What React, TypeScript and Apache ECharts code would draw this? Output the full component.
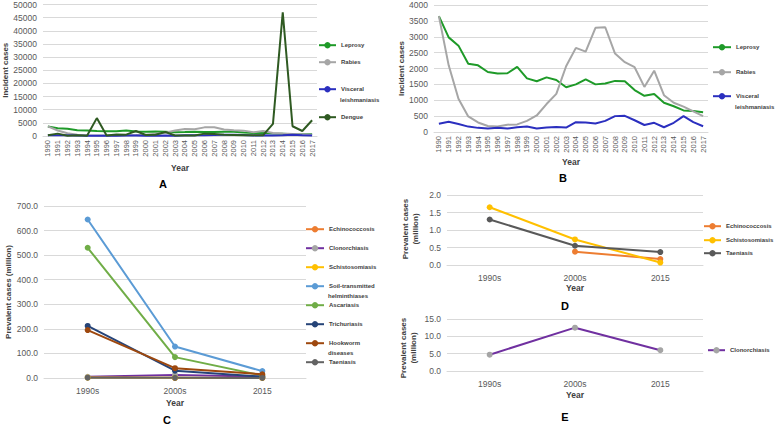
import React, { useEffect, useRef } from "react";
import * as echarts from "echarts";

const years = ["1990","1991","1992","1993","1994","1995","1996","1997","1998","1999","2000","2001","2002","2003","2004","2005","2006","2007","2008","2009","2010","2011","2012","2013","2014","2015","2016","2017"];
const leprosy = [3650, 2980, 2720, 2150, 2100, 1890, 1840, 1850, 2050, 1690, 1600, 1720, 1640, 1410, 1500, 1660, 1500, 1530, 1610, 1600, 1320, 1140, 1200, 920, 810, 680, 660, 620];
const rabies = [3650, 2100, 1050, 490, 300, 190, 170, 230, 240, 350, 520, 880, 1200, 2070, 2650, 2530, 3280, 3300, 2470, 2200, 2040, 1420, 1930, 1160, 920, 800, 650, 500];
const visceral = [260, 320, 250, 170, 130, 110, 130, 110, 150, 170, 110, 140, 160, 140, 310, 300, 270, 350, 500, 510, 370, 220, 290, 150, 290, 500, 310, 180];
const dengue = [300, 900, 100, 300, 100, 6800, 200, 600, 500, 1900, 400, 500, 1500, 200, 200, 200, 900, 800, 500, 400, 300, 300, 300, 4600, 47000, 3700, 1900, 6000];

const periods = ["1990s", "2000s", "2015"];
const echinococcosis = [null, 0.38, 0.17];
const clonorchiasis = [4.7, 12.5, 6.0];
const schistosomiasis = [1.65, 0.73, 0.07];
const soilTransmitted = [645, 128, 28];
const ascariasis = [530, 85, 10];
const trichuriasis = [212, 30, 5];
const hookworm = [195, 40, 15];
const taeniasis = [1.3, 0.55, 0.37];

const FONT = "'Liberation Sans', Arial, sans-serif";
const TICK = "#595959";
const GRIDC = "#d9d9d9";
const LFS = 6;

export default function App() {
  const ref = useRef<HTMLDivElement>(null);
  useEffect(() => {
    document.body.style.margin = "0";
    const chart = echarts.init(ref.current!, null, { renderer: "svg" });

    const grids = [
      { left: 43, top: 4, width: 274, height: 132 },
      { left: 434, top: 5, width: 274, height: 127 },
      { left: 44, top: 206, width: 262, height: 172 },
      { left: 447, top: 195, width: 256, height: 70 },
      { left: 447, top: 319, width: 256, height: 52 },
    ];

    const xBase = (i: number, data: string[], rotate: number, fs: number, nameGap: number, labelMargin: number) => ({
      type: "category",
      gridIndex: i,
      data,
      boundaryGap: true,
      name: "Year",
      nameLocation: "middle",
      nameGap,
      nameTextStyle: { fontFamily: FONT, fontSize: 8.5, fontWeight: "bold", color: "#404040" },
      axisLine: { show: true, lineStyle: { color: GRIDC, width: 1 } },
      axisTick: { show: false },
      axisLabel: { interval: 0, rotate, fontFamily: FONT, fontSize: fs, color: TICK, margin: labelMargin },
      splitLine: { show: false },
    });

    const yBase = (i: number, max: number, interval: number, name: string, nameGap: number, decimals: number) => ({
      type: "value",
      gridIndex: i,
      min: 0,
      max,
      interval,
      name,
      nameLocation: "middle",
      nameGap,
      nameTextStyle: { fontFamily: FONT, fontSize: 8, fontWeight: "bold", color: "#404040" },
      axisLine: { show: false },
      axisTick: { show: false },
      axisLabel: {
        fontFamily: FONT, fontSize: 8.5, color: TICK, margin: 6,
        formatter: (v: number) => v.toFixed(decimals),
      },
      splitLine: { lineStyle: { color: GRIDC, width: 1 } },
    });

    const lineS = (name: string, data: any[], xi: number, color: string, z = 2) => ({
      type: "line", name, data, xAxisIndex: xi, yAxisIndex: xi,
      symbol: "none", lineStyle: { color, width: 2 }, itemStyle: { color }, z,
    });
    const markS = (name: string, data: any[], xi: number, color: string, mColor?: string) => ({
      type: "line", name, data, xAxisIndex: xi, yAxisIndex: xi,
      symbol: "circle", symbolSize: 6, showSymbol: true,
      lineStyle: { color, width: 2 }, itemStyle: { color: mColor || color },
    });

    const legendText = { fontFamily: FONT, fontSize: LFS, fontWeight: "bold", color: "#404040" };
    const leg = (name: string, left: number, y: number, w: number, label?: string) => ({
      data: [name], left, top: y - 4, orient: "vertical", itemWidth: w, itemHeight: 8, itemGap: 0,
      padding: 0, selectedMode: false,
      formatter: label ? () => label : undefined,
      textStyle: legendText,
    });

    const gText = (text: string, x: number, y: number, size: number, align = "center", rotation = 0) => ({
      type: "text", x, y, rotation,
      style: { text, fontFamily: FONT, fontSize: size, fontWeight: "bold", fill: size > 9 ? "#000" : "#404040", align, verticalAlign: "middle", lineHeight: 10 },
    });

    const option: any = {
      animation: false,
      backgroundColor: "#fff",
      grid: grids,
      xAxis: [
        xBase(0, years, 90, 7.5, 27, 4),
        xBase(1, years, 90, 7.5, 25, 4),
        xBase(2, periods, 0, 8.5, 20, 8),
        xBase(3, periods, 0, 8.5, 18, 8),
        xBase(4, periods, 0, 8.5, 19, 8),
      ],
      yAxis: [
        yBase(0, 50000, 5000, "Incident cases", 30, 0),
        yBase(1, 4000, 500, "Incident cases", 25, 0),
        yBase(2, 700, 100, "Prevalent cases (million)", 30, 1),
        yBase(3, 2, 0.5, "", 24, 1),
        yBase(4, 15, 5, "", 26, 1),
      ],
      legend: [
        leg("Leprosy", 318, 46, 17),
        leg("Rabies", 318, 63, 17),
        leg("Visceral leishmaniasis", 318, 90, 17, "Visceral"),
        leg("Dengue", 318, 118, 17),
        leg("Leprosy ", 712, 48, 18, "Leprosy"),
        leg("Rabies ", 712, 73, 18, "Rabies"),
        leg("Visceral leishmaniasis ", 712, 97, 18, "Visceral"),
        leg("Echinococcosis", 305, 230, 18),
        leg("Clonorchiasis", 305, 249, 18),
        leg("Schistosomiasis", 305, 268, 18),
        leg("Soil-transmitted helminthiases", 305, 287, 18, "Soil-transmitted"),
        leg("Ascariasis", 305, 306, 18),
        leg("Trichuriasis", 305, 325, 18),
        leg("Hookworm diseases", 305, 344, 18, "Hookworm"),
        leg("Taeniasis", 305, 363, 18),
        leg("Echinococcosis ", 703, 227, 17, "Echinococcosis"),
        leg("Schistosomiasis ", 703, 241, 17, "Schistosomiasis"),
        leg("Taeniasis ", 703, 254, 17, "Taeniasis"),
        leg("Clonorchiasis ", 707, 351, 17, "Clonorchiasis"),
      ],
      graphic: [
        gText("leishmaniasis", 340, 100, LFS, "left"),
        gText("leishmaniasis", 735, 106.5, LFS, "left"),
        gText("helminthiases", 328, 296, LFS, "left"),
        gText("diseases", 328, 353, LFS, "left"),
        gText("Prevalent cases\n(million)", 410, 229, 8, "center", Math.PI / 2),
        gText("Prevalent cases\n(million)", 408, 348, 8, "center", Math.PI / 2),
        gText("A", 163, 184, 11),
        gText("B", 563, 178, 11),
        gText("C", 167, 420, 11),
        gText("D", 565, 306, 11),
        gText("E", 565, 417, 11),
      ],
      series: [
        lineS("Leprosy", leprosy, 0, "#1e9a28"),
        lineS("Rabies", rabies, 0, "#a6a6a6"),
        lineS("Visceral leishmaniasis", visceral, 0, "#2b2fbf"),
        lineS("Dengue", dengue, 0, "#2f5a22", 3),
        lineS("Leprosy ", leprosy, 1, "#1e9a28"),
        lineS("Rabies ", rabies, 1, "#a6a6a6"),
        lineS("Visceral leishmaniasis ", visceral, 1, "#2b2fbf"),
        markS("Echinococcosis", echinococcosis, 2, "#ed7d31"),
        markS("Clonorchiasis", clonorchiasis, 2, "#7030a0", "#a5a5a5"),
        markS("Schistosomiasis", schistosomiasis, 2, "#ffc000"),
        markS("Soil-transmitted helminthiases", soilTransmitted, 2, "#5b9bd5"),
        markS("Ascariasis", ascariasis, 2, "#70ad47"),
        markS("Trichuriasis", trichuriasis, 2, "#264478"),
        markS("Hookworm diseases", hookworm, 2, "#9e480e"),
        markS("Taeniasis", taeniasis, 2, "#636363"),
        markS("Echinococcosis ", echinococcosis, 3, "#ed7d31"),
        markS("Schistosomiasis ", schistosomiasis, 3, "#ffc000"),
        markS("Taeniasis ", taeniasis, 3, "#595959"),
        markS("Clonorchiasis ", clonorchiasis, 4, "#7030a0", "#a5a5a5"),
      ],
    };
    chart.setOption(option);
    return () => chart.dispose();
  }, []);
  return <div ref={ref} style={{ position: "fixed", left: 0, top: 0, width: 778, height: 425 }} />;
}
